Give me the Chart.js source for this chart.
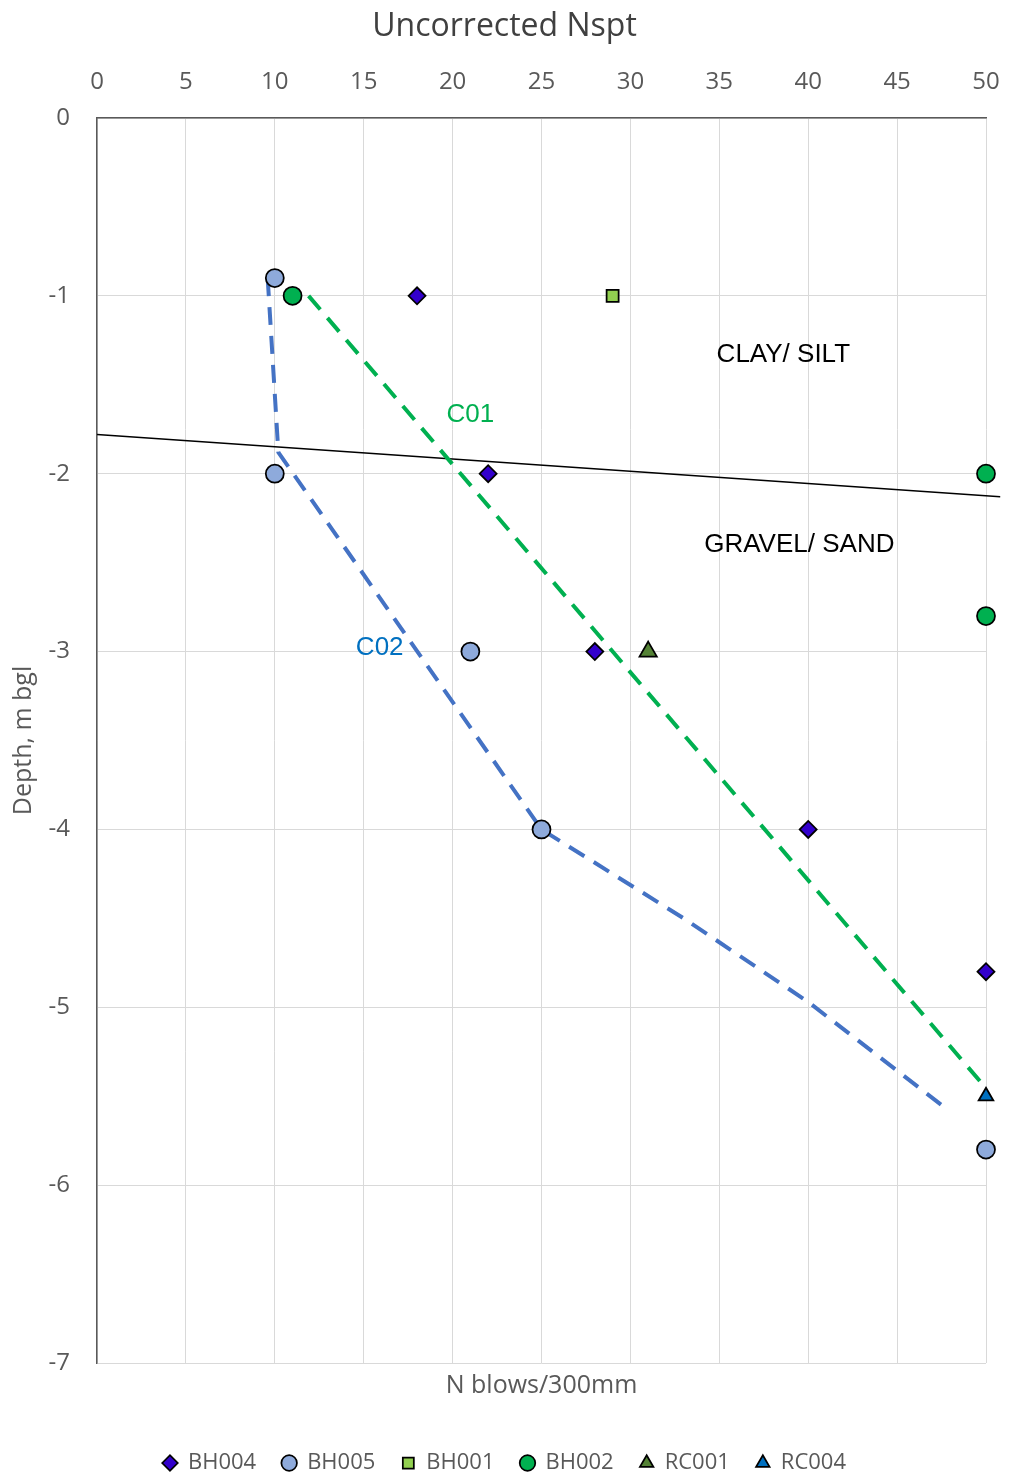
<!DOCTYPE html>
<html>
<head>
<meta charset="utf-8">
<script src="https://cdn.jsdelivr.net/npm/chart.js@4/dist/chart.umd.min.js"></script>
<style>
  html, body { margin: 0; padding: 0; background: #fff; }
  #wrap { width: 1009px; height: 1477px; }
</style>
</head>
<body>
<div id="wrap"><canvas id="nspt"></canvas></div>
<script>
// x ticks (N) and depth ticks
const xTicks = [0, 5, 10, 15, 20, 25, 30, 35, 40, 45, 50];
const depthTicks = [0, -1, -2, -3, -4, -5, -6, -7];

// borehole readings: N value, depth (m)
const bh004N = [18, 22, 28, 40, 50];
const bh004Depth = [-1, -2, -3, -4, -4.8];
const bh005N = [10, 10, 21, 25, 50];
const bh005Depth = [-0.9, -2, -3, -4, -5.8];
const bh001N = [29];
const bh001Depth = [-1];
const bh002N = [11, 50, 50];
const bh002Depth = [-1, -2, -2.8];
const rc001N = [31];
const rc001Depth = [-3];
const rc004N = [50];
const rc004Depth = [-5.5];

// interpreted lines
const c01N = [11.9, 49.7];
const c01Depth = [-1, -5.42];
const c02N = [9.6, 10.2, 25, 33, 40, 47.5];
const c02Depth = [-0.9, -1.88, -4, -4.5, -4.97, -5.55];
const boundaryN = [0, 50.8];
const boundaryDepth = [-1.78, -2.13];

const pts = (xs, ys) => xs.map((x, i) => ({ x, y: ys[i] }));

const notes = [
  { text: 'CLAY/ SILT', x: 38.6, y: -1.33, color: '#000000' },
  { text: 'GRAVEL/ SAND', x: 39.5, y: -2.4, color: '#000000' },
  { text: 'C01', x: 21.0, y: -1.67, color: '#00b050' },
  { text: 'C02', x: 15.9, y: -2.98, color: '#0070c0' },
];

const AXIS_FONT = '"Open Sans", sans-serif';
const LEGEND_PAD_BOTTOM = -7;
const PLOT_TOP = 118;
const PLOT_BOTTOM = 1363;

const notePlugin = {
  id: 'notes',
  afterDatasetsDraw(chart) {
    const { ctx, scales } = chart;
    ctx.save();
    ctx.font = '26px "Liberation Sans", Arial, sans-serif';
    ctx.textAlign = 'center';
    ctx.textBaseline = 'middle';
    notes.forEach((n) => {
      ctx.fillStyle = n.color;
      ctx.fillText(n.text, scales.x.getPixelForValue(n.x), scales.y.getPixelForValue(n.y));
    });
    ctx.restore();
  },
};

function marker(label, xs, ys, style, color, radius) {
  return {
    label,
    data: pts(xs, ys),
    pointStyle: style,
    backgroundColor: color,
    borderColor: '#000000',
    borderWidth: 1.75,
    pointRadius: radius,
    showLine: false,
    clip: false,
  };
}

function guide(label, xs, ys, color, dash, width) {
  return {
    label,
    data: pts(xs, ys),
    showLine: true,
    borderColor: color,
    borderWidth: width,
    borderDash: dash,
    pointRadius: 0,
    fill: false,
    clip: false,
    order: 10,
  };
}

new Chart(document.getElementById('nspt'), {
  type: 'scatter',
  data: {
    datasets: [
      marker('BH004', bh004N, bh004Depth, 'rectRot', '#3300cc', 8.5),
      marker('BH005', bh005N, bh005Depth, 'circle', '#8eaadb', 9),
      marker('BH001', bh001N, bh001Depth, 'rect', '#92d050', 8.5),
      marker('BH002', bh002N, bh002Depth, 'circle', '#00b050', 9),
      marker('RC001', rc001N, rc001Depth, 'triangle', '#548235', 10),
      marker('RC004', rc004N, rc004Depth, 'triangle', '#0070c0', 8.5),
      guide('_C01', c01N, c01Depth, '#00b050', [18, 11], 4),
      guide('_C02', c02N, c02Depth, '#4472c4', [18, 11], 4),
      guide('_boundary', boundaryN, boundaryDepth, '#000000', [], 1.5),
    ],
  },
  options: {
    responsive: true,
    maintainAspectRatio: false,
    animation: false,
    layout: { padding: { left: 0, right: 0, top: 0, bottom: LEGEND_PAD_BOTTOM } },
    plugins: {
      tooltip: { enabled: false },
      title: {
        display: true,
        text: 'Uncorrected Nspt',
        color: '#404040',
        font: { family: AXIS_FONT, size: 32, weight: 'normal' },
        padding: { top: 8, bottom: 0 },
      },
      legend: {
        position: 'bottom',
        labels: {
          usePointStyle: true,
          boxHeight: 11,
          boxWidth: 14,
          padding: 26,
          color: '#595959',
          font: { family: AXIS_FONT, size: 22 },
          filter: (item) => !item.text.startsWith('_'),
        },
      },
    },
    scales: {
      x: {
        type: 'linear',
        position: 'top',
        min: 0,
        max: 50,
        afterBuildTicks: (scale) => { scale.ticks = xTicks.map((v) => ({ value: v })); },
        afterFit: (scale) => {
          scale.height = PLOT_TOP - scale.chart.titleBlock.height;
          scale.paddingLeft = 0;
          scale.paddingRight = 23;
        },
        ticks: { color: '#595959', padding: 21, font: { family: AXIS_FONT, size: 24 } },
        grid: { color: '#d9d9d9', lineWidth: 1, drawTicks: false },
        border: { color: '#595959', width: 1.5 },
      },
      x2: {
        type: 'linear',
        position: 'bottom',
        min: 0,
        max: 50,
        afterFit: (scale) => {
          const chart = scale.chart;
          scale.height = chart.height - LEGEND_PAD_BOTTOM - chart.legend.height - PLOT_BOTTOM;
          scale.paddingLeft = 0;
          scale.paddingRight = 0;
        },
        ticks: { display: false },
        grid: { display: false },
        border: { display: false },
        title: {
          display: true,
          text: 'N blows/300mm',
          color: '#595959',
          font: { family: AXIS_FONT, size: 25 },
          padding: { top: 0, bottom: 25 },
        },
      },
      y: {
        type: 'linear',
        min: -7,
        max: 0,
        afterBuildTicks: (scale) => { scale.ticks = depthTicks.map((v) => ({ value: v })); },
        afterFit: (scale) => {
          scale.width = 97;
          scale.paddingTop = 0;
          scale.paddingBottom = 0;
        },
        ticks: { color: '#595959', padding: 27, font: { family: AXIS_FONT, size: 24 } },
        grid: { color: '#d9d9d9', lineWidth: 1, drawTicks: false },
        border: { color: '#595959', width: 1.5 },
        title: {
          display: true,
          text: 'Depth, m bgl',
          color: '#595959',
          font: { family: AXIS_FONT, size: 25 },
          padding: { top: 9, bottom: 0 },
        },
      },
    },
  },
  plugins: [notePlugin],
});
</script>
</body>
</html>
